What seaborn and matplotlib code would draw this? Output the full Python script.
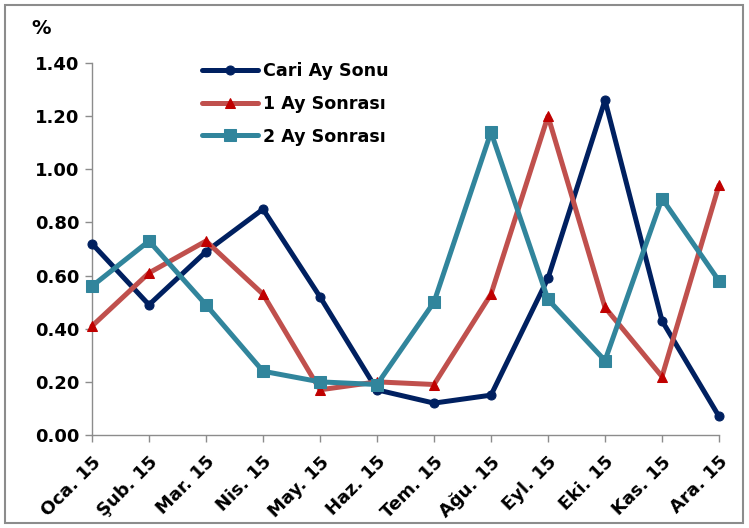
import numpy as np
import pandas as pd
import matplotlib
matplotlib.use('Agg')
import matplotlib.pyplot as plt
import seaborn as sns
from matplotlib.patches import Rectangle

months = ['Oca. 15', 'Şub. 15', 'Mar. 15', 'Nis. 15', 'May. 15', 'Haz. 15',
          'Tem. 15', 'Ağu. 15', 'Eyl. 15', 'Eki. 15', 'Kas. 15', 'Ara. 15']
cari_ay_sonu = [0.72, 0.49, 0.69, 0.85, 0.52, 0.17, 0.12, 0.15, 0.59, 1.26, 0.43, 0.07]
bir_ay_sonrasi = [0.41, 0.61, 0.73, 0.53, 0.17, 0.20, 0.19, 0.53, 1.20, 0.48, 0.22, 0.94]
iki_ay_sonrasi = [0.56, 0.73, 0.49, 0.24, 0.20, 0.19, 0.50, 1.14, 0.51, 0.28, 0.89, 0.58]
y_ticks = [0.0, 0.2, 0.4, 0.6, 0.8, 1.0, 1.2, 1.4]

sns.set_style('white')
plt.rcParams['font.family'] = ['DejaVu Sans']
plt.rcParams['text.color'] = 'black'
plt.rcParams['xtick.labelcolor'] = 'black'
plt.rcParams['ytick.labelcolor'] = 'black'

fig = plt.figure(figsize=(7.49, 5.28), dpi=100)
ax = fig.add_axes([92/749, 1 - 435/528, (719 - 92)/749, (435 - 63)/528])

# grey frame around the chart
fig.patches.append(Rectangle((5/749, 5/528), 738/749, 518/528, transform=fig.transFigure,
                             fill=False, edgecolor='#8c8c8c', linewidth=1.5))

x = np.arange(len(months))
series = [
    ('Cari Ay Sonu', cari_ay_sonu, '#002060', '#002060', 'o', 6.5),
    ('1 Ay Sonrası', bir_ay_sonrasi, '#C0504D', '#C00000', '^', 7),
    ('2 Ay Sonrası', iki_ay_sonrasi, '#31859C', '#31859C', 's', 8),
]
for name, vals, col, mcol, mk, ms in series:
    sns.lineplot(x=x, y=vals, ax=ax, color=col, linewidth=3.6, marker=mk,
                 markersize=ms, markerfacecolor=mcol, markeredgecolor=mcol,
                 label=name, clip_on=False, zorder=3)

ax.set_xlim(0, len(months) - 1)
ax.set_ylim(0, 1.4)
ax.set_yticks(y_ticks)
ax.set_yticklabels([f'{v:.2f}' for v in y_ticks], fontsize=13, fontweight='bold')
ax.set_xticks(x)
ax.set_xticklabels(months, rotation=45, ha='right', rotation_mode='anchor',
                   fontsize=13, fontweight='bold')
ax.tick_params(axis='both', direction='out', length=5, width=1, color='#8c8c8c',
               left=True, bottom=True, pad=4)
ax.tick_params(axis='x', pad=8)
for s in ['top', 'right']:
    ax.spines[s].set_visible(False)
for s in ['left', 'bottom']:
    ax.spines[s].set_color('#8c8c8c')
    ax.spines[s].set_linewidth(1)
ax.set_xlabel('')
ax.set_ylabel('')

fig.text(31/749, 1 - 28/528, '%', fontsize=14, fontweight='bold', va='center')

ax.legend(loc='upper left', bbox_to_anchor=(186/749, 1 - 46/528),
          bbox_transform=fig.transFigure, frameon=False, handlelength=3.2,
          handletextpad=0.3, labelspacing=0.85,
          prop={'weight': 'bold', 'size': 12.6})

fig.savefig('out.png', dpi=100)
